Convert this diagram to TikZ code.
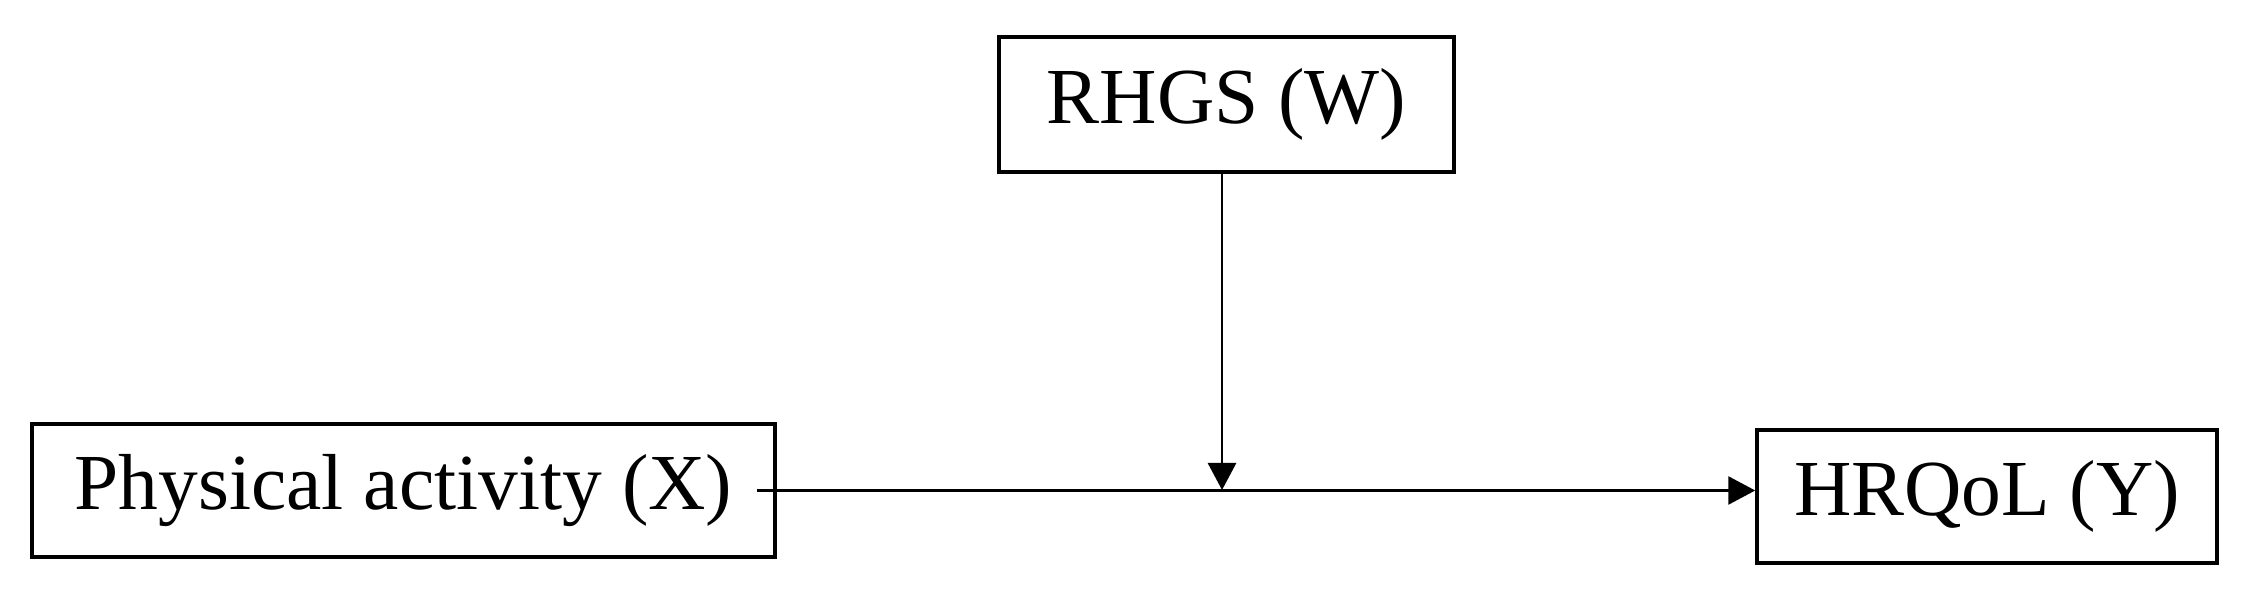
\documentclass[tikz,border=0pt]{standalone}
\usepackage{fontspec}
\setmainfont{Liberation Serif}
\usetikzlibrary{arrows.meta}
\tikzset{
  varbox/.style={draw, line width=1pt, inner sep=0pt, align=center,
    font=\fontsize{22.6}{27}\selectfont},
  path/.style={line width=0.8pt, -{Triangle[length=0.27cm,width=0.28cm]}}
}
\begin{document}
\begin{tikzpicture}
      \useasboundingbox (0,0) rectangle (22.47,5.92);
      \draw
        (4.035,1.015) node[varbox, minimum width=7.43cm, minimum height=1.33cm] (X){Physical activity (X)}
        (12.265,4.875) node[varbox, minimum width=4.55cm, minimum height=1.35cm] (W){RHGS (W)}
        (19.87,0.955) node[varbox, minimum width=4.60cm, minimum height=1.33cm] (Y){HRQoL (Y)};
      \coordinate (start) at ([xshift=-0.2cm]X.east);
      \coordinate (mod) at (12.22,1.02);
      \begin{scope}[path]
        \draw (start) -- (start -| Y.west);
        \draw (W.south -| mod) -- (mod);
      \end{scope}
    \end{tikzpicture}
\end{document}
